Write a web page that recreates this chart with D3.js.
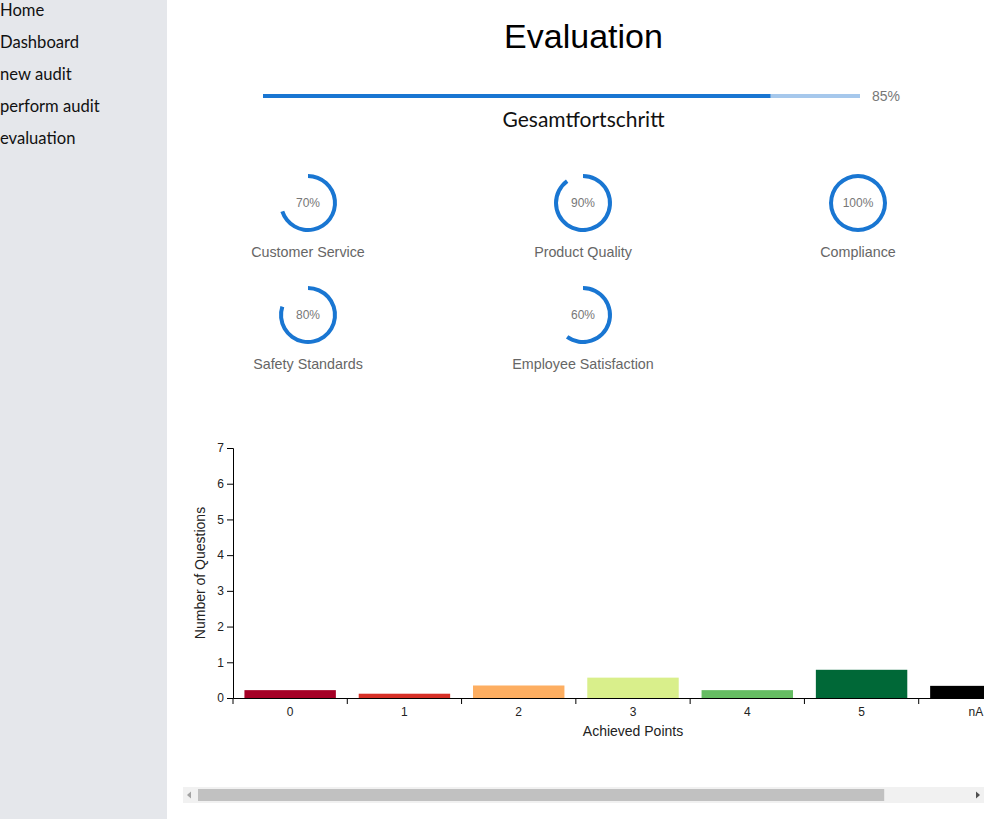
<!DOCTYPE html>
<html>
<head>
<meta charset="utf-8">
<script src="https://cdn.jsdelivr.net/npm/d3@7"></script>
<style>
  html, body { margin: 0; padding: 0; background: #fff; overflow: hidden; }
  #sidebar {
    position: absolute; left: 0; top: 0; width: 167px; height: 819px;
    background: #e5e7eb; font-family: Lato, "Noto Sans", sans-serif; font-size: 16.6px; color: #111;
  }
  #sidebar div { position: absolute; left: 0; }
  #header { position: absolute; left: 167px; top: 0; }
  #chart-wrap {
    position: absolute; left: 183px; top: 428px; width: 801px;
    overflow: hidden;
  }
  #chart-wrap svg { display: block; }
  #scrollbar { position: absolute; left: 183px; top: 787px; }
</style>
</head>
<body>
<div id="sidebar"></div>
<svg id="header" width="833" height="400"></svg>
<div id="chart-wrap"><svg id="bar-chart"></svg></div>
<svg id="scrollbar" width="801" height="16"></svg>
<script>
const navItems = ['Home', 'Dashboard', 'new audit', 'perform audit', 'evaluation'];

const overallProgress = 85;

const categories = ['Customer Service', 'Product Quality', 'Compliance', 'Safety Standards', 'Employee Satisfaction'];
const categoryScores = [70, 90, 100, 80, 60];

const pointLabels = ['0', '1', '2', '3', '4', '5', 'nA'];
const questionCounts = [0.22, 0.12, 0.35, 0.57, 0.22, 0.79, 0.34];
const pointColors = ['#a50026', '#d73027', '#fdae61', '#d9ef8b', '#66bd63', '#006837', '#000000'];

const yTicks = [0, 1, 2, 3, 4, 5, 6, 7];

// sidebar
d3.select('#sidebar').selectAll('div')
  .data(navItems)
  .enter()
  .append('div')
  .style('top', (d, i) => (0 + i * 32) + 'px')
  .text(d => d);

// header: title, overall progress, category rings
const header = d3.select('#header');
const cx = 416.5;

header.append('text')
  .attr('x', cx).attr('y', 48)
  .attr('text-anchor', 'middle')
  .style('font-family', '"Liberation Sans", Arial, sans-serif')
  .style('font-size', '34px')
  .text('Evaluation');

const progX = d3.scaleLinear().domain([0, 100]).range([96, 693]);

header.append('rect')
  .attr('x', progX(0)).attr('y', 94)
  .attr('width', progX(100) - progX(0)).attr('height', 4)
  .attr('fill', '#a6c8ec');
header.append('rect')
  .attr('x', progX(0)).attr('y', 94)
  .attr('width', progX(overallProgress) - progX(0)).attr('height', 4)
  .attr('fill', '#1976d2');
header.append('text')
  .attr('x', 705).attr('y', 101)
  .style('font-family', '"Liberation Sans", Arial, sans-serif')
  .style('font-size', '14px')
  .attr('fill', '#777')
  .text(overallProgress + '%');

header.append('text')
  .attr('x', cx).attr('y', 127)
  .attr('text-anchor', 'middle')
  .style('font-family', 'Lato, "Noto Sans", sans-serif')
  .style('font-size', '21px')
  .attr('fill', '#111')
  .text('Gesamtfortschritt');

const arc = d3.arc().innerRadius(25).outerRadius(29).startAngle(0);
const angle = d3.scaleLinear().domain([0, 100]).range([0, 2 * Math.PI]);

const rings = header.selectAll('g.ring')
  .data(categories.map((c, i) => ({ name: c, score: categoryScores[i], i })))
  .enter()
  .append('g')
  .attr('class', 'ring')
  .attr('transform', d => `translate(${141 + (d.i % 3) * 275},${203 + Math.floor(d.i / 3) * 112})`);

rings.append('path')
  .attr('d', d => arc({ endAngle: angle(d.score) }))
  .attr('fill', '#1976d2');

rings.append('text')
  .attr('text-anchor', 'middle')
  .attr('dy', '0.35em')
  .style('font-family', '"Liberation Sans", Arial, sans-serif')
  .style('font-size', '12px')
  .attr('fill', '#777')
  .text(d => d.score + '%');

rings.append('text')
  .attr('text-anchor', 'middle')
  .attr('y', 54)
  .style('font-family', '"Liberation Sans", Arial, sans-serif')
  .style('font-size', '14.3px')
  .attr('fill', '#666')
  .text(d => d.name);

// bar chart
const margin = { top: 20, right: 50, bottom: 89, left: 50 };
const width = 900;
const height = 359;

const svg = d3.select('#bar-chart')
  .attr('width', width)
  .attr('height', height);

const x = d3.scaleBand()
  .domain(pointLabels)
  .range([margin.left, width - margin.right])
  .paddingInner(0.2)
  .paddingOuter(0.1);

const y = d3.scaleLinear()
  .domain([0, 7])
  .range([height - margin.bottom, margin.top]);

svg.selectAll('rect.bar')
  .data(pointLabels.map((p, i) => ({ p, v: questionCounts[i], c: pointColors[i] })))
  .enter()
  .append('rect')
  .attr('class', 'bar')
  .attr('x', d => x(d.p))
  .attr('y', d => y(d.v))
  .attr('width', x.bandwidth())
  .attr('height', d => y(0) - y(d.v))
  .attr('fill', d => d.c);

const xAxis = svg.append('g')
  .attr('transform', `translate(0,${y(0)})`)
  .call(d3.axisBottom(x).tickSizeOuter(0));
// tick marks sit on the band boundaries, labels stay centred
xAxis.selectAll('.tick line')
  .attr('x1', -x.step() / 2)
  .attr('x2', -x.step() / 2);
xAxis.selectAll('text').style('font-size', '12px');

const yAxis = svg.append('g')
  .attr('transform', `translate(${margin.left},0)`)
  .call(d3.axisLeft(y).tickValues(yTicks).tickFormat(d3.format('d')));
yAxis.selectAll('text').style('font-size', '12px');

svg.selectAll('.tick text')
  .style('font-family', '"Liberation Sans", Arial, sans-serif')
  .attr('fill', '#222');

svg.append('text')
  .attr('x', width / 2)
  .attr('y', 308)
  .attr('text-anchor', 'middle')
  .style('font-family', '"Liberation Sans", Arial, sans-serif')
  .style('font-size', '14px')
  .attr('fill', '#222')
  .text('Achieved Points');

svg.append('text')
  .attr('transform', `translate(22,${(y(0) + y(7)) / 2}) rotate(-90)`)
  .attr('text-anchor', 'middle')
  .style('font-family', '"Liberation Sans", Arial, sans-serif')
  .style('font-size', '14px')
  .attr('fill', '#222')
  .text('Number of Questions');

// horizontal scrollbar of the chart box (drawn, since headless hides it)
const visible = 801;
const sb = d3.select('#scrollbar');
const track = d3.scaleLinear().domain([0, width]).range([15, visible - 15]);
sb.append('rect').attr('width', visible).attr('height', 16).attr('fill', '#f1f1f1');
sb.append('rect')
  .attr('x', track(0)).attr('y', 2)
  .attr('width', track(visible) - track(0)).attr('height', 12)
  .attr('fill', '#c1c1c1');
sb.append('path').attr('d', 'M4,8L8,4.5L8,11.5Z').attr('fill', '#a3a3a3');
sb.append('path').attr('d', `M${visible - 4},8L${visible - 8},4.5L${visible - 8},11.5Z`).attr('fill', '#505050');
</script>
</body>
</html>
